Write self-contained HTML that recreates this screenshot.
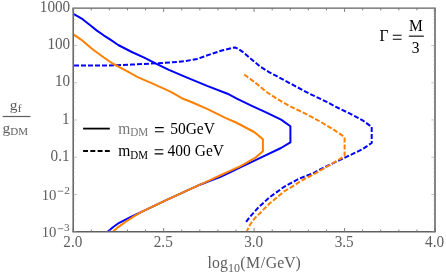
<!DOCTYPE html>
<html><head><meta charset="utf-8"><title>plot</title>
<style>html,body{margin:0;padding:0;background:#fff;}body{width:446px;height:275px;overflow:hidden;font-family:"Liberation Serif",serif;}</style>
</head><body>
<svg width="446" height="275" viewBox="0 0 446 275" style="display:block;will-change:transform">
<rect width="446" height="275" fill="#fff"/>
<defs><clipPath id="c"><rect x="73.2" y="8.2" width="361.8" height="223.55"/></clipPath></defs>
<g clip-path="url(#c)" fill="none" stroke-width="2" stroke-linejoin="round">
<path d="M73.0,13.6 L82.6,19.2 L90.2,25.2 L96.9,30.6 L103.6,35.3 L110.4,39.7 L118.2,45.0 L131.8,52.0 L144.2,57.7 L156.5,63.8 L168.9,69.8 L184.7,76.7 L207.1,85.9 L227.5,93.7 L236.8,98.6 L251.8,105.8 L265.5,112.2 L281.1,119.6 L290.4,126.3 L290.4,142.4 L281.0,148.0 L265.5,155.4 L254.5,160.6 L238.2,168.3 L230.0,172.3 L220.0,177.0 L210.0,180.9 L200.0,184.7 L186.9,190.7 L175.0,196.1 L166.7,199.9 L160.0,203.1 L154.2,205.8 L141.6,211.8 L130.9,216.9 L119.2,222.8 L112.9,227.3 L107.4,231.9" stroke="#0000ff"/>
<path d="M74.0,65.5 L107.0,65.5 L131.8,64.6 L156.5,63.3 L172.4,62.3 L184.7,61.2 L197.1,59.0 L209.4,54.6 L221.8,50.5 L226.0,49.5 L231.0,48.2 L235.0,47.4 L238.5,49.0 L242.3,51.6 L251.4,59.3 L260.5,66.8 L269.5,72.3 L276.8,76.2 L291.3,84.0 L309.3,93.6 L327.3,102.2 L335.5,106.7 L349.1,113.2 L362.7,120.4 L371.7,127.0 L371.7,143.0 L361.8,149.5 L344.5,157.8 L327.3,166.0 L319.0,170.0 L313.2,173.3 L305.9,176.0 L298.6,179.0 L291.4,182.8 L284.1,186.8 L276.8,192.1 L269.5,197.3 L262.3,203.9 L258.5,207.3 L255.0,211.2 L249.7,217.1 L245.4,222.9" stroke="#0000ff" stroke-dasharray="5 2"/>
<path d="M73.0,34.2 L81.1,39.6 L92.2,49.0 L102.1,56.2 L112.6,63.5 L125.5,70.3 L138.2,77.3 L152.7,83.6 L170.9,91.8 L181.8,98.2 L191.4,102.0 L207.1,108.9 L225.9,118.2 L236.0,122.5 L254.2,132.0 L262.9,139.3 L262.9,151.2 L255.9,157.3 L243.7,164.4 L240.0,166.4 L230.0,170.9 L220.0,175.5 L210.0,180.1 L200.0,184.7 L186.9,190.7 L175.0,196.1 L166.7,199.9 L160.0,203.1 L154.2,205.8 L141.6,211.8 L132.7,217.1 L124.6,222.5 L118.3,227.1 L112.5,231.9" stroke="#ff8000"/>
<path d="M244.2,74.5 L255.2,82.6 L266.0,91.6 L276.8,98.7 L291.3,106.9 L300.0,111.0 L313.6,117.9 L320.0,121.5 L332.5,128.9 L344.6,137.1 L344.6,155.7 L340.5,158.6 L336.4,161.1 L327.0,166.6 L319.0,171.1 L313.2,174.6 L305.9,178.1 L298.6,182.5 L291.4,187.1 L284.1,191.3 L276.8,197.5 L273.6,200.2 L269.5,203.5 L266.4,206.6 L263.8,209.1 L261.5,211.7 L259.1,213.9 L256.5,216.4 L254.2,218.9 L251.8,222.2 L250.0,224.8 L246.5,231.9" stroke="#ff8000" stroke-dasharray="5 2"/>
</g>
<path d="M72.45,8.2 H435.75 M72.45,231.75 H435.75" fill="none" stroke="#606060" stroke-width="1.3"/>
<path d="M73.2,8.2 V231.75 M435.0,8.2 V231.75" fill="none" stroke="#5e5e5e" stroke-width="1.5"/>
<path d="M73.20,231.75 v-3.7 M73.20,8.2 v3.7 M91.29,231.75 v-2.2 M91.29,8.2 v2.2 M109.38,231.75 v-2.2 M109.38,8.2 v2.2 M127.47,231.75 v-2.2 M127.47,8.2 v2.2 M145.56,231.75 v-2.2 M145.56,8.2 v2.2 M163.65,231.75 v-3.7 M163.65,8.2 v3.7 M181.74,231.75 v-2.2 M181.74,8.2 v2.2 M199.83,231.75 v-2.2 M199.83,8.2 v2.2 M217.92,231.75 v-2.2 M217.92,8.2 v2.2 M236.01,231.75 v-2.2 M236.01,8.2 v2.2 M254.10,231.75 v-3.7 M254.10,8.2 v3.7 M272.19,231.75 v-2.2 M272.19,8.2 v2.2 M290.28,231.75 v-2.2 M290.28,8.2 v2.2 M308.37,231.75 v-2.2 M308.37,8.2 v2.2 M326.46,231.75 v-2.2 M326.46,8.2 v2.2 M344.55,231.75 v-3.7 M344.55,8.2 v3.7 M362.64,231.75 v-2.2 M362.64,8.2 v2.2 M380.73,231.75 v-2.2 M380.73,8.2 v2.2 M398.82,231.75 v-2.2 M398.82,8.2 v2.2 M416.91,231.75 v-2.2 M416.91,8.2 v2.2 M435.00,231.75 v-3.7 M435.00,8.2 v3.7" stroke="#707070" stroke-width="0.9" fill="none"/>
<path d="M73.2,231.75 h3.6 M435.0,231.75 h-3.6 M73.2,194.49 h3.6 M435.0,194.49 h-3.6 M73.2,157.23 h3.6 M435.0,157.23 h-3.6 M73.2,119.98 h3.6 M435.0,119.98 h-3.6 M73.2,82.72 h3.6 M435.0,82.72 h-3.6 M73.2,45.46 h3.6 M435.0,45.46 h-3.6 M73.2,8.20 h3.6 M435.0,8.20 h-3.6" stroke="#999" stroke-width="0.6" fill="none"/>
<path d="M73.2,220.53 h2 M435.0,220.53 h-2 M73.2,213.97 h2 M435.0,213.97 h-2 M73.2,209.32 h2 M435.0,209.32 h-2 M73.2,205.71 h2 M435.0,205.71 h-2 M73.2,202.76 h2 M435.0,202.76 h-2 M73.2,200.26 h2 M435.0,200.26 h-2 M73.2,198.10 h2 M435.0,198.10 h-2 M73.2,196.20 h2 M435.0,196.20 h-2 M73.2,183.28 h2 M435.0,183.28 h-2 M73.2,176.71 h2 M435.0,176.71 h-2 M73.2,172.06 h2 M435.0,172.06 h-2 M73.2,168.45 h2 M435.0,168.45 h-2 M73.2,165.50 h2 M435.0,165.50 h-2 M73.2,163.00 h2 M435.0,163.00 h-2 M73.2,160.84 h2 M435.0,160.84 h-2 M73.2,158.94 h2 M435.0,158.94 h-2 M73.2,146.02 h2 M435.0,146.02 h-2 M73.2,139.46 h2 M435.0,139.46 h-2 M73.2,134.80 h2 M435.0,134.80 h-2 M73.2,131.19 h2 M435.0,131.19 h-2 M73.2,128.24 h2 M435.0,128.24 h-2 M73.2,125.75 h2 M435.0,125.75 h-2 M73.2,123.59 h2 M435.0,123.59 h-2 M73.2,121.68 h2 M435.0,121.68 h-2 M73.2,108.76 h2 M435.0,108.76 h-2 M73.2,102.20 h2 M435.0,102.20 h-2 M73.2,97.54 h2 M435.0,97.54 h-2 M73.2,93.93 h2 M435.0,93.93 h-2 M73.2,90.98 h2 M435.0,90.98 h-2 M73.2,88.49 h2 M435.0,88.49 h-2 M73.2,86.33 h2 M435.0,86.33 h-2 M73.2,84.42 h2 M435.0,84.42 h-2 M73.2,71.50 h2 M435.0,71.50 h-2 M73.2,64.94 h2 M435.0,64.94 h-2 M73.2,60.28 h2 M435.0,60.28 h-2 M73.2,56.67 h2 M435.0,56.67 h-2 M73.2,53.72 h2 M435.0,53.72 h-2 M73.2,51.23 h2 M435.0,51.23 h-2 M73.2,49.07 h2 M435.0,49.07 h-2 M73.2,47.16 h2 M435.0,47.16 h-2 M73.2,34.24 h2 M435.0,34.24 h-2 M73.2,27.68 h2 M435.0,27.68 h-2 M73.2,23.03 h2 M435.0,23.03 h-2 M73.2,19.42 h2 M435.0,19.42 h-2 M73.2,16.47 h2 M435.0,16.47 h-2 M73.2,13.97 h2 M435.0,13.97 h-2 M73.2,11.81 h2 M435.0,11.81 h-2 M73.2,9.90 h2 M435.0,9.90 h-2" stroke="#aaa" stroke-width="0.4" fill="none"/>
<g font-family="'Liberation Serif', serif">
<text transform="translate(70.2,11.799999999999999) scale(1,1.05)" text-anchor="end" fill="#5e5e5e" font-size="15.2" >1000</text>
<text transform="translate(70.2,49.05833333333333) scale(1,1.05)" text-anchor="end" fill="#5e5e5e" font-size="15.2" >100</text>
<text transform="translate(70.2,86.31666666666666) scale(1,1.05)" text-anchor="end" fill="#5e5e5e" font-size="15.2" >10</text>
<text transform="translate(69.6,123.57500000000002) scale(1,1.05)" text-anchor="end" fill="#5e5e5e" font-size="15.2" >1</text>
<text transform="translate(69.6,160.83333333333331) scale(1,1.05)" text-anchor="end" fill="#5e5e5e" font-size="15.2" >0.1</text>
<text transform="translate(56.5,199.7) scale(1,1.05)" text-anchor="end" fill="#5e5e5e" font-size="14.8" >10</text>
<path d="M57.8,191.2 h5.5" stroke="#777" stroke-width="0.9" fill="none"/>
<text transform="translate(64.3,193.6) scale(1,0.99)" text-anchor="start" fill="#5e5e5e" font-size="11.3" >2</text>
<text transform="translate(56.5,236.8) scale(1,1.05)" text-anchor="end" fill="#5e5e5e" font-size="14.8" >10</text>
<path d="M57.8,228.7 h5.5" stroke="#777" stroke-width="0.9" fill="none"/>
<text transform="translate(64.1,231.4) scale(1,0.99)" text-anchor="start" fill="#5e5e5e" font-size="11.3" >3</text>
<text transform="translate(72.8,246.7) scale(1,1.05)" text-anchor="middle" fill="#5e5e5e" font-size="15.2" >2.0</text>
<text transform="translate(163.25,246.7) scale(1,1.05)" text-anchor="middle" fill="#5e5e5e" font-size="15.2" >2.5</text>
<text transform="translate(253.70000000000002,246.7) scale(1,1.05)" text-anchor="middle" fill="#5e5e5e" font-size="15.2" >3.0</text>
<text transform="translate(344.15000000000003,246.7) scale(1,1.05)" text-anchor="middle" fill="#5e5e5e" font-size="15.2" >3.5</text>
<text transform="translate(434.6,246.7) scale(1,1.05)" text-anchor="middle" fill="#5e5e5e" font-size="15.2" >4.0</text>
<text transform="translate(207.6,267.7) scale(1,1.05)" text-anchor="start" fill="#5e5e5e" font-size="15.8" >log<tspan font-size="12" dy="4.2" dx="0.2">10</tspan><tspan dy="-4.2" dx="0.3" letter-spacing="0.6">(M/</tspan><tspan>GeV)</tspan></text>
<text transform="translate(9.7,109.6) scale(1,0.98)" text-anchor="start" fill="#5e5e5e" font-size="15.5" >g<tspan font-size="11.5" dy="2.8" dx="0.3">f</tspan></text>
<rect x="2.7" y="115.9" width="27.8" height="1.2" fill="#5e5e5e"/>
<text transform="translate(2.5,132.6) scale(1,0.98)" text-anchor="start" fill="#5e5e5e" font-size="15.5" >g<tspan font-size="11" dy="2.8">DM</tspan></text>
<path d="M83.1,128.6 H109.8" stroke="#000" stroke-width="1.8" fill="none"/>
<path d="M83.1,151 H109.8" stroke="#000" stroke-width="1.8" stroke-dasharray="4.9 2.37" fill="none"/>
<text transform="translate(118.2,133.7) scale(1,1.05)" text-anchor="start" fill="#777" font-size="15.5" >m<tspan font-size="11.2" dy="2.6">DM</tspan></text>
<text transform="translate(170.2,133.9) scale(1,1.05)" text-anchor="start" fill="#000" font-size="15.5" >50GeV</text>
<path d="M155,127.65 h8.7 M155,131.75 h8.7" stroke="#000" stroke-width="1.1" fill="none"/>
<text transform="translate(118.2,155.9) scale(1,1.05)" text-anchor="start" fill="#000" font-size="15.5" >m<tspan font-size="11" dy="3">DM</tspan></text>
<text transform="translate(167.6,156) scale(1,1.05)" text-anchor="start" fill="#000" font-size="15.5" >400 GeV</text>
<path d="M154.6,149.75 h8.7 M154.6,153.85 h8.7" stroke="#000" stroke-width="1.1" fill="none"/>
<text transform="translate(379.4,40.9) scale(1,1.05)" text-anchor="start" fill="#000" font-size="15.5" >Γ</text>
<path d="M392.8,35.2 h8.8 M392.8,39.2 h8.8" stroke="#000" stroke-width="1.1" fill="none"/>
<text transform="translate(415.8,30.6) scale(1,1.05)" text-anchor="middle" fill="#000" font-size="15.5" >M</text>
<rect x="408.8" y="35.6" width="15" height="1.1" fill="#000"/>
<text transform="translate(415.7,52.7) scale(1,1.05)" text-anchor="middle" fill="#000" font-size="15.5" >3</text>
</g>
</svg>
</body></html>
